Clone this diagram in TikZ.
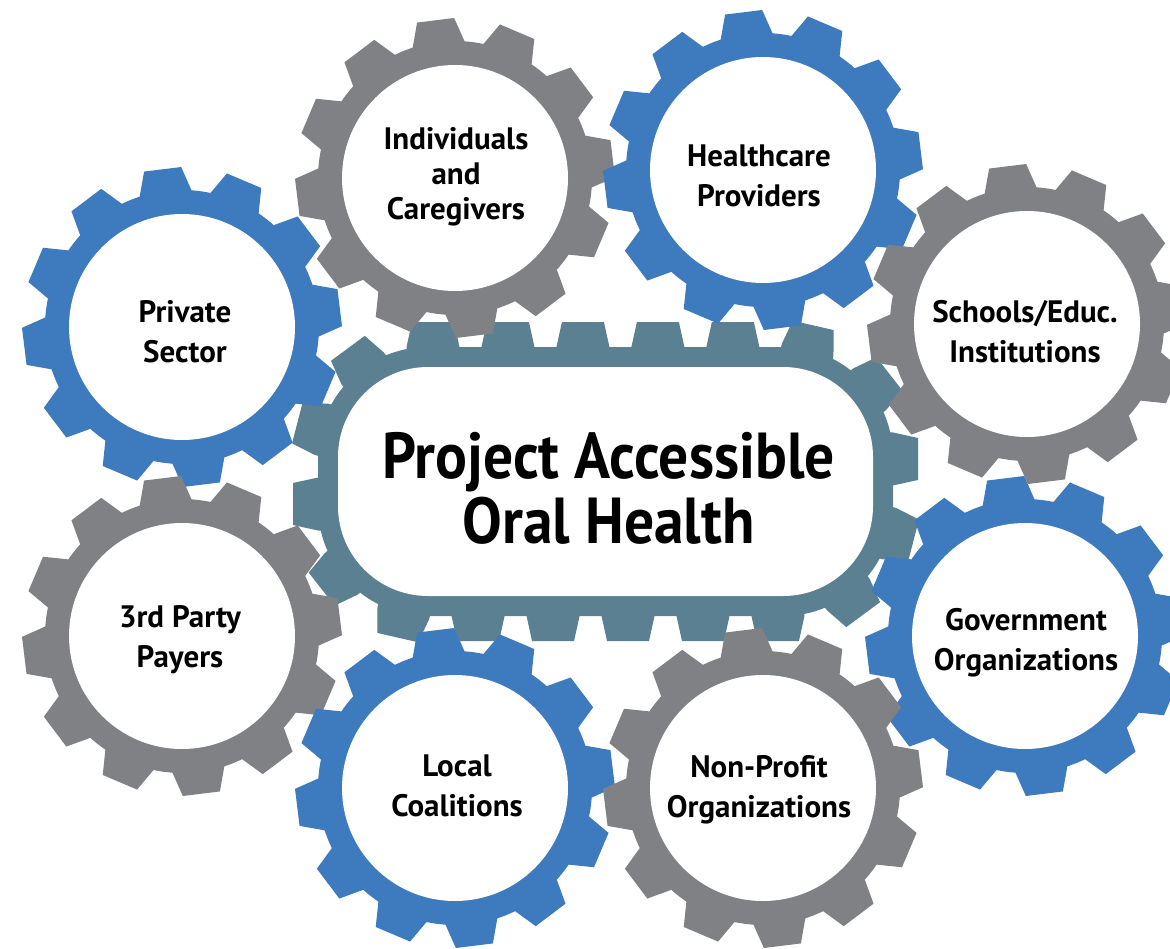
\documentclass[tikz,border=0pt]{standalone}
\usepackage{fontspec}
\setmainfont{PT Sans}
\newfontfamily\bigfont[FakeStretch=0.915]{PT Sans}
\usetikzlibrary{decorations.markings}
\definecolor{gblue}{RGB}{61,122,190}
\definecolor{ggray}{RGB}{128,129,133}
\definecolor{gteal}{RGB}{91,128,146}
\tikzset{
  lbl/.style={font=\fontsize{31}{40}\selectfont\bfseries, align=center, text=black, inner sep=0pt, text depth=0pt},
  biglbl/.style={font=\bigfont\fontsize{65}{65}\selectfont\bfseries, align=center, text=black, inner sep=0pt, text depth=0pt},
  tooth/.style={fill=gteal}
}
% #1 name, #2 x, #3 y, #4 colour, #5 text x, #6 text y, #7 text
\newcommand\mygear[7]{%
  \begin{scope}[shift={(#2,#3)}]
    \fill[#4] (0,0) circle[radius=137];
    \foreach \k in {0,...,11}{%
      \pgfmathsetmacro\a{97+30*\k}
      \fill[#4] (\a-11:120) -- (\a-11:137) -- (\a-6.7:160) -- (\a+6.7:160) -- (\a+11:137) -- (\a+11:120) -- cycle;
    }
    \fill[white] (0,0) circle[radius=113];
  \end{scope}
  \node[lbl] (#1) at (#5,#6) {#7};
}
\begin{document}
\begin{tikzpicture}[x=1pt,y=1pt]
\useasboundingbox (0,0) rectangle (1170,-948);
\fill[white] (0,0) rectangle (1170,-948);
% central gear
\fill[gteal] (433,-347) -- (783,-347) arc[start angle=90,end angle=0,radius=110] -- (893,-506) arc[start angle=0,end angle=-90,radius=110] -- (428,-616) arc[start angle=-90,end angle=-180,radius=110] -- (318,-457) arc[start angle=180,end angle=90,radius=110] -- cycle;
\path[decorate, decoration={markings, mark=between positions 0 and 0.99 step 0.05 with {\fill[tooth] (-26.5pt,-8pt) -- (-26.5pt,0pt) -- (-21pt,25pt) -- (21pt,25pt) -- (26.5pt,0pt) -- (26.5pt,-8pt) -- cycle;}}]
  (433,-347) -- (783,-347) arc[start angle=90,end angle=0,radius=110] -- (893,-506) arc[start angle=0,end angle=-90,radius=110] -- (428,-616) arc[start angle=-90,end angle=-180,radius=110] -- (318,-457) arc[start angle=180,end angle=90,radius=110] -- cycle;
\fill[white, rounded corners=90pt] (338,-367) rectangle (873,-596);
\node[biglbl] (center) at (608.5,-487.5) {Project Accessible\\Oral Health};
% outer gears
\mygear{private}{182}{-327}{gblue}{185}{-331}{Private\\Sector}
\mygear{indiv}{455}{-178}{ggray}{456}{-173}{Individuals\\[-5pt]and\\[-5pt]Caregivers}
\mygear{health}{763}{-170}{gblue}{759}{-176}{Healthcare\\Providers}
\mygear{schools}{1027}{-324}{ggray}{1025}{-331}{Schools/Educ.\\Institutions}
\mygear{gov}{1025}{-636}{gblue}{1026}{-639}{Government\\Organizations}
\mygear{third}{182}{-636}{ggray}{180}{-636}{3rd Party\\Payers}
\mygear{local}{455}{-788}{gblue}{457}{-786}{Local\\Coalitions}
\mygear{nonprofit}{763}{-788}{ggray}{759}{-786}{Non-Profit\\Organizations}
\end{tikzpicture}
\end{document}
